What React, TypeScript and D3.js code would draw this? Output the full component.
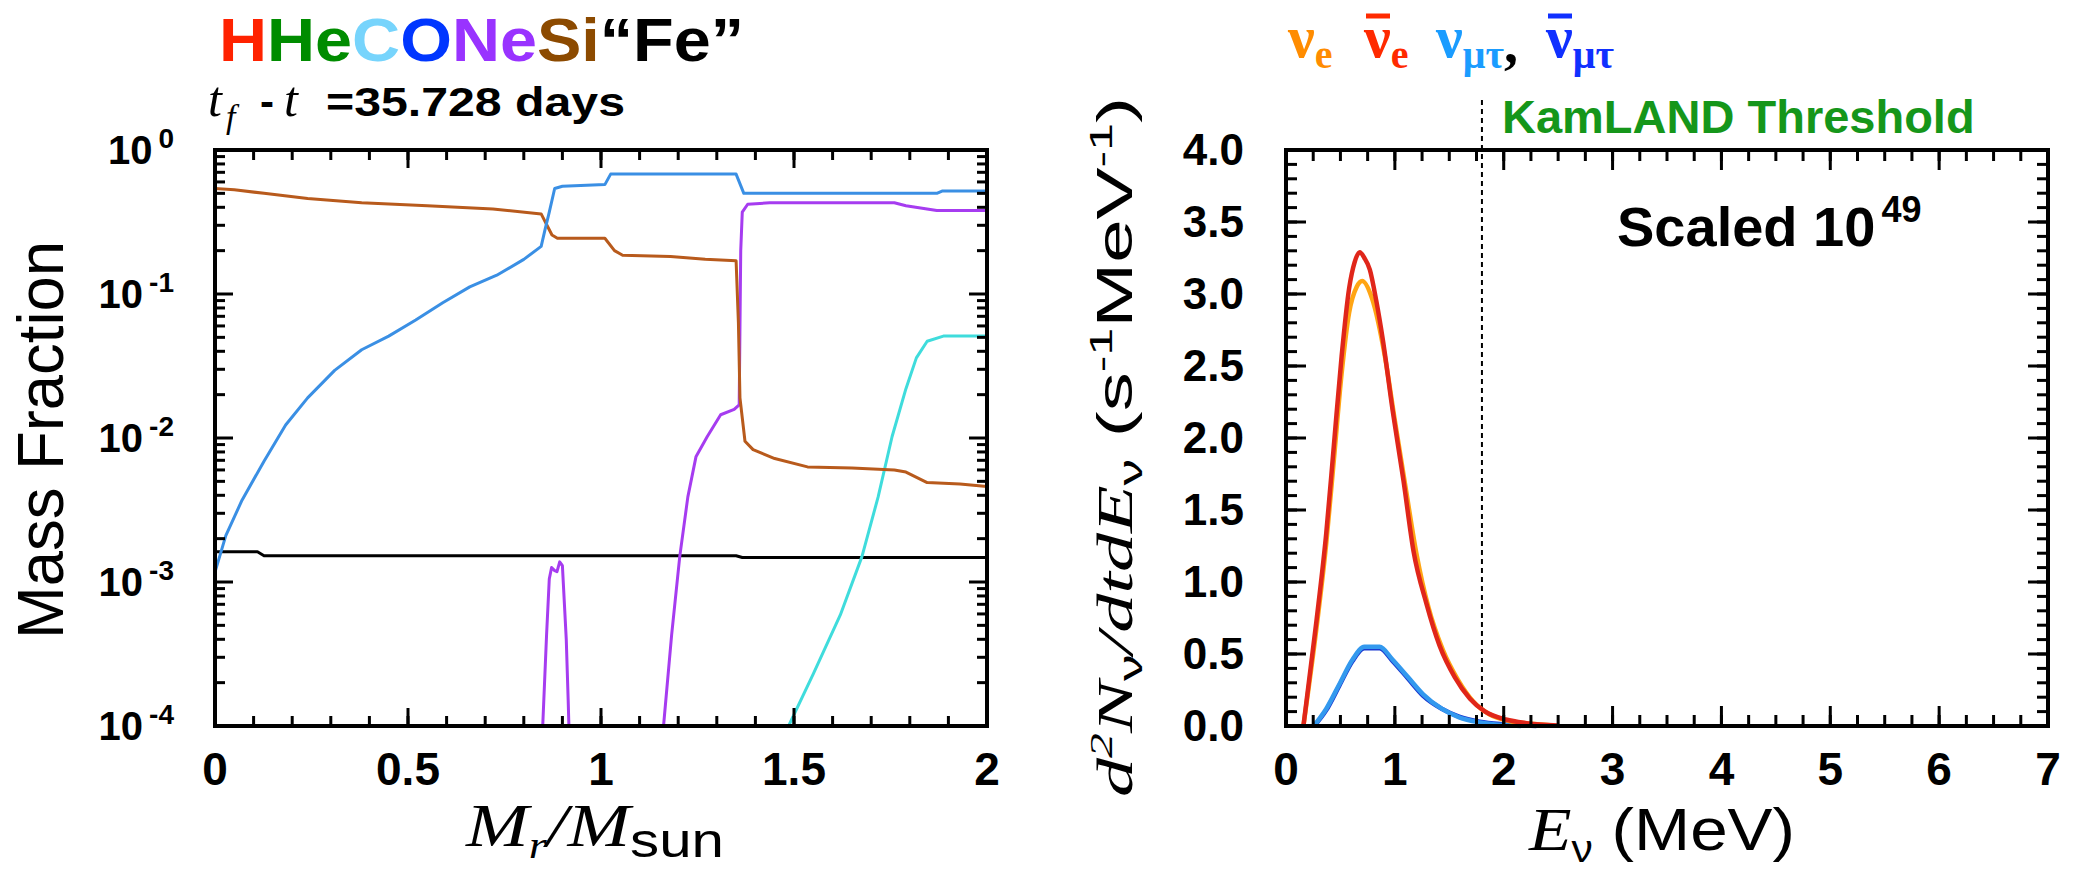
import React, { useEffect, useRef } from "react";
import * as d3 from "d3";

// ---- left panel: mass fraction vs Mr/Msun ----
const oxygen = [
  [0, 1.17e-3], [0.028, 2.1e-3], [0.07, 3.7e-3], [0.127, 6.9e-3], [0.183, 1.23e-2],
  [0.24, 1.9e-2], [0.31, 2.95e-2], [0.38, 4.1e-2], [0.45, 5.1e-2], [0.52, 6.6e-2],
  [0.59, 8.7e-2], [0.66, 0.112], [0.73, 0.135], [0.8, 0.174], [0.845, 0.214],
  [0.855, 0.28], [0.866, 0.37], [0.88, 0.54], [0.9, 0.56], [1.01, 0.575],
  [1.025, 0.68], [1.35, 0.68], [1.37, 0.5], [1.87, 0.5], [1.885, 0.52], [2.0, 0.52],
];
const silicon = [
  [0, 0.54], [0.05, 0.53], [0.127, 0.5], [0.24, 0.46], [0.38, 0.43], [0.55, 0.41],
  [0.72, 0.39], [0.845, 0.36], [0.86, 0.3], [0.873, 0.257], [0.887, 0.244], [1.01, 0.244],
  [1.035, 0.2], [1.056, 0.186], [1.18, 0.182], [1.27, 0.174], [1.35, 0.17], [1.356, 0.063],
  [1.36, 0.019], [1.373, 9.5e-3], [1.394, 8.3e-3], [1.45, 7.2e-3], [1.535, 6.3e-3],
  [1.65, 6.2e-3], [1.76, 6.0e-3], [1.79, 5.8e-3], [1.845, 4.9e-3], [1.93, 4.8e-3], [2.0, 4.6e-3],
];
const neonInner = [
  [0.845, 5e-5], [0.849, 1e-4], [0.859, 4.3e-4], [0.866, 1.05e-3], [0.872, 1.26e-3],
  [0.88, 1.2e-3], [0.886, 1.18e-3], [0.893, 1.38e-3], [0.9, 1.3e-3], [0.91, 4e-4],
  [0.915, 1.5e-4], [0.92, 5e-5],
];
const neonOuter = [
  [1.155, 5e-5], [1.162, 1e-4], [1.183, 4.3e-4], [1.204, 1.5e-3], [1.225, 3.9e-3],
  [1.246, 7.4e-3], [1.275, 1.02e-2], [1.31, 1.45e-2], [1.345, 1.58e-2], [1.358, 1.7e-2],
  [1.362, 0.2], [1.366, 0.37], [1.38, 0.42], [1.437, 0.43], [1.76, 0.43], [1.79, 0.41],
  [1.87, 0.38], [2.0, 0.38],
];
const carbon = [
  [1.475, 5e-5], [1.486, 1e-4], [1.55, 2.3e-4], [1.62, 5.9e-4], [1.676, 1.5e-3],
  [1.718, 3.9e-3], [1.754, 1.02e-2], [1.79, 2.2e-2], [1.817, 3.6e-2], [1.845, 4.7e-2],
  [1.887, 5.1e-2], [2.0, 5.1e-2],
];
const iron = [
  [0, 1.62e-3], [0.11, 1.62e-3], [0.127, 1.52e-3], [1.35, 1.52e-3], [1.366, 1.48e-3], [2.0, 1.48e-3],
];
const massTicks = [0, 0.5, 1, 1.5, 2];
const massTickLabels = ["0", "0.5", "1", "1.5", "2"];
const fractionDecades = [0, -1, -2, -3, -4];

// ---- right panel: neutrino spectra, scaled 1e49 ----
const nuE = [
  [0.16, 0], [0.28, 0.68], [0.37, 1.27], [0.44, 1.85], [0.51, 2.44], [0.58, 2.87],
  [0.65, 3.05], [0.7, 3.09], [0.79, 2.97], [0.91, 2.56], [1.0, 2.12], [1.1, 1.65],
  [1.2, 1.19], [1.31, 0.82], [1.44, 0.53], [1.58, 0.32], [1.72, 0.17], [1.86, 0.085],
  [2.05, 0.035], [2.31, 0.012], [2.45, 0.004],
];
const nuEBar = [
  [0.16, 0], [0.28, 0.73], [0.37, 1.34], [0.44, 1.95], [0.51, 2.56], [0.58, 3.04],
  [0.63, 3.22], [0.677, 3.29], [0.72, 3.25], [0.77, 3.17], [0.83, 2.95], [0.89, 2.68],
  [0.98, 2.19], [1.08, 1.7], [1.17, 1.22], [1.29, 0.85], [1.41, 0.56], [1.55, 0.34],
  [1.69, 0.19], [1.83, 0.1], [2.02, 0.045], [2.21, 0.02], [2.5, 0.004],
];
const nuMuTau = [
  [0.255, 0], [0.37, 0.12], [0.49, 0.29], [0.61, 0.46], [0.72, 0.55], [0.86, 0.55],
  [0.98, 0.46], [1.12, 0.34], [1.26, 0.22], [1.43, 0.12], [1.59, 0.06], [1.78, 0.025],
  [2.02, 0.005], [2.16, 0],
];
const nuMuTauBar = [
  [0.26, 0], [0.37, 0.11], [0.49, 0.28], [0.61, 0.45], [0.72, 0.54], [0.86, 0.54],
  [0.98, 0.45], [1.12, 0.33], [1.26, 0.21], [1.43, 0.12], [1.59, 0.065], [1.78, 0.03],
  [2.0, 0.012], [2.2, 0.003], [2.3, 0],
];
const energyTicks = [0, 1, 2, 3, 4, 5, 6, 7];
const rateTicks = [0, 0.5, 1, 1.5, 2, 2.5, 3, 3.5, 4];
const rateTickLabels = ["0.0", "0.5", "1.0", "1.5", "2.0", "2.5", "3.0", "3.5", "4.0"];
const kamlandThreshold = 1.8;

const titleParts = [
  ["H", "#ff2200"], ["He", "#008c00"], ["C", "#77d4fc"], ["O", "#0036ff"],
  ["Ne", "#9933ff"], ["Si", "#8c4a00"], ["\u201cFe\u201d", "#000000"],
];

const SANS = "'Liberation Sans', Arial, Helvetica, sans-serif";
const SERIF = "'Liberation Serif', 'Times New Roman', serif";

const W = 2085;
const H = 873;

const App = () => {
  const ref = useRef<HTMLDivElement>(null);

  useEffect(() => {
    document.body.style.margin = "0";
    const root = d3.select(ref.current);
    root.select("svg").remove();
    const svg = root.append("svg").attr("width", W).attr("height", H)
      .style("display", "block").style("background", "#fff");

    const top = 150, bottom = 726;

    // frame + inward ticks on all four sides
    const drawTicks = (g, x, y, xMajor, xMinor, yMajor, yMinor, majLen, minLen) => {
      const [x0, x1] = x.range();
      const [yb, yt] = y.range();
      const tick = (a, b, c, d) => g.append("line").attr("x1", a).attr("y1", b).attr("x2", c).attr("y2", d)
        .attr("stroke", "#000").attr("stroke-width", 3);
      xMinor.concat(xMajor).forEach((v, i) => {
        const len = i < xMinor.length ? minLen : majLen;
        const px = x(v);
        tick(px, yb, px, yb - len);
        tick(px, yt, px, yt + len);
      });
      yMinor.concat(yMajor).forEach((v, i) => {
        const len = i < yMinor.length ? minLen : majLen;
        const py = y(v);
        tick(x0, py, x0 + len, py);
        tick(x1, py, x1 - len, py);
      });
      g.append("rect").attr("x", x0).attr("y", yt).attr("width", x1 - x0).attr("height", yb - yt)
        .attr("fill", "none").attr("stroke", "#000").attr("stroke-width", 4);
    };

    // ===== left panel =====
    const xL = d3.scaleLinear().domain([0, 2]).range([215, 987]);
    const yL = d3.scaleLog().domain([1e-4, 1]).range([bottom, top]);

    svg.append("clipPath").attr("id", "clipL").append("rect")
      .attr("x", 215).attr("y", top).attr("width", 772).attr("height", bottom - top);

    const lineL = d3.line().x(d => xL(d[0])).y(d => yL(Math.max(d[1], 1e-5)));
    const gl = svg.append("g").attr("clip-path", "url(#clipL)").attr("fill", "none")
      .attr("stroke-width", 3).attr("stroke-linejoin", "round");
    [
      [iron, "#000000"], [carbon, "#3fdcdc"], [neonInner, "#a63cf0"], [neonOuter, "#a63cf0"],
      [silicon, "#b85a1c"], [oxygen, "#3a8fe4"],
    ].forEach(([data, color]) => gl.append("path").attr("d", lineL(data)).attr("stroke", color));

    const minorL = d3.range(0, 2.0001, 0.1);
    const minorLogs = [];
    fractionDecades.slice(1).forEach(d => d3.range(2, 10).forEach(m => minorLogs.push(m * Math.pow(10, d))));
    drawTicks(svg.append("g"), xL, yL, massTicks, minorL,
      fractionDecades.map(d => Math.pow(10, d)), minorLogs, 18, 10);

    massTicks.forEach((v, i) => {
      svg.append("text").attr("x", xL(v)).attr("y", 785).attr("text-anchor", "middle")
        .attr("font-family", SANS).attr("font-weight", "bold").attr("font-size", 46)
        .text(massTickLabels[i]);
    });
    fractionDecades.forEach(d => {
      const t = svg.append("text").attr("x", 174).attr("y", yL(Math.pow(10, d)) + 14)
        .attr("text-anchor", "end").attr("font-family", SANS).attr("font-weight", "bold");
      t.append("tspan").attr("font-size", 40).text("10");
      t.append("tspan").attr("font-size", 28).attr("dx", 6).attr("dy", -16).text(d === 0 ? "0" : `${d}`);
    });

    svg.append("text").attr("transform", `translate(63,440) rotate(-90)`)
      .attr("text-anchor", "middle").attr("font-family", SANS).attr("font-size", 64)
      .attr("textLength", 398).attr("lengthAdjust", "spacingAndGlyphs").text("Mass Fraction");

    const mx = svg.append("text").attr("x", 466).attr("y", 846)
      .attr("textLength", 258).attr("lengthAdjust", "spacingAndGlyphs");
    mx.append("tspan").attr("font-family", SERIF).attr("font-style", "italic").attr("font-size", 62).text("M");
    mx.append("tspan").attr("font-family", SERIF).attr("font-style", "italic").attr("font-size", 38).attr("dy", 12).text("r");
    mx.append("tspan").attr("font-family", SERIF).attr("font-style", "italic").attr("font-size", 62).attr("dy", -12).text("/M");
    mx.append("tspan").attr("font-family", SANS).attr("font-size", 48).attr("dy", 11).text("sun");

    const title = svg.append("text").attr("x", 219).attr("y", 61)
      .attr("font-family", SANS).attr("font-weight", "bold").attr("font-size", 62)
      .attr("textLength", 525).attr("lengthAdjust", "spacingAndGlyphs");
    titleParts.forEach(([t, c]) => title.append("tspan").attr("fill", c).text(t));

    const tl = svg.append("text").attr("y", 116);
    tl.append("tspan").attr("x", 208).attr("font-family", SERIF).attr("font-style", "italic").attr("font-size", 50).text("t");
    tl.append("tspan").attr("x", 226).attr("dy", 12).attr("font-family", SERIF).attr("font-style", "italic").attr("font-size", 34).text("f");
    tl.append("tspan").attr("x", 260).attr("dy", -12).attr("font-family", SANS).attr("font-weight", "bold").attr("font-size", 42).text("-");
    tl.append("tspan").attr("x", 284).attr("font-family", SERIF).attr("font-style", "italic").attr("font-size", 50).text("t");
    svg.append("text").attr("x", 326).attr("y", 116).attr("font-family", SANS).attr("font-weight", "bold")
      .attr("font-size", 40).attr("textLength", 299).attr("lengthAdjust", "spacingAndGlyphs").text("=35.728 days");

    // ===== right panel =====
    const xR = d3.scaleLinear().domain([0, 7]).range([1286, 2048]);
    const yR = d3.scaleLinear().domain([0, 4]).range([bottom, top]);

    svg.append("line").attr("x1", xR(kamlandThreshold)).attr("x2", xR(kamlandThreshold))
      .attr("y1", 100).attr("y2", bottom).attr("stroke", "#000").attr("stroke-width", 2)
      .attr("stroke-dasharray", "5,4");

    const lineR = d3.line().x(d => xR(d[0])).y(d => yR(d[1])).curve(d3.curveMonotoneX);
    const gr = svg.append("g").attr("fill", "none").attr("stroke-width", 4.5).attr("stroke-linejoin", "round");
    [
      [nuMuTauBar, "#1a3ad0"], [nuMuTau, "#3399ee"], [nuE, "#ffa514"], [nuEBar, "#e0261a"],
    ].forEach(([data, color]) => gr.append("path").attr("d", lineR(data)).attr("stroke", color));

    drawTicks(svg.append("g"), xR, yR, energyTicks, d3.range(0, 7.001, 0.25),
      rateTicks, d3.range(0, 4.001, 0.1), 20, 11);

    energyTicks.forEach(v => {
      svg.append("text").attr("x", xR(v)).attr("y", 785).attr("text-anchor", "middle")
        .attr("font-family", SANS).attr("font-weight", "bold").attr("font-size", 46).text(v);
    });
    rateTicks.forEach((v, i) => {
      svg.append("text").attr("x", 1244).attr("y", yR(v) + 15).attr("text-anchor", "end")
        .attr("font-family", SANS).attr("font-weight", "bold").attr("font-size", 44).text(rateTickLabels[i]);
    });

    const ex = svg.append("text").attr("x", 1529).attr("y", 850)
      .attr("textLength", 266).attr("lengthAdjust", "spacingAndGlyphs");
    ex.append("tspan").attr("font-family", SERIF).attr("font-style", "italic").attr("font-size", 62).text("E");
    ex.append("tspan").attr("font-family", SANS).attr("font-size", 38).attr("dy", 12).text("\u03bd");
    ex.append("tspan").attr("font-family", SANS).attr("font-size", 60).attr("dy", -12).text(" (MeV)");

    const yl = svg.append("text").attr("transform", "translate(1132,447) rotate(-90)")
      .attr("text-anchor", "middle").attr("textLength", 700).attr("lengthAdjust", "spacingAndGlyphs");
    const part = (txt, font, size, dy, italic) => {
      const s = yl.append("tspan").attr("font-family", font).attr("font-size", size).attr("dy", dy).text(txt);
      if (italic) s.attr("font-style", "italic");
    };
    part("d", SERIF, 50, 0, true);
    part("2", SERIF, 32, -20, true);
    part("N", SERIF, 50, 20, true);
    part("\u03bd", SANS, 34, 10, false);
    part("/dtdE", SERIF, 50, -10, true);
    part("\u03bd", SANS, 34, 10, false);
    part(" (s", SANS, 50, -10, false);
    part("-1", SANS, 32, -20, false);
    part("MeV", SANS, 50, 20, false);
    part("-1", SANS, 32, -20, false);
    part(")", SANS, 50, 20, false);

    svg.append("text").attr("x", 1502).attr("y", 133).attr("font-family", SANS).attr("font-weight", "bold")
      .attr("font-size", 47).attr("fill", "#15961a").text("KamLAND Threshold");

    const sc = svg.append("text").attr("x", 1617).attr("y", 246).attr("font-family", SANS).attr("font-weight", "bold");
    sc.append("tspan").attr("font-size", 56).text("Scaled 10");
    sc.append("tspan").attr("font-size", 36).attr("dx", 6).attr("dy", -24).text("49");

    // legend: nu_e, anti-nu_e, nu_mutau, anti-nu_mutau
    const legend = [
      { x: 1288, sub: "e", color: "#ff8c00", bar: false, comma: false },
      { x: 1364, sub: "e", color: "#ff2a00", bar: true, comma: false },
      { x: 1436, sub: "\u03bc\u03c4", color: "#1a9cff", bar: false, comma: true },
      { x: 1546, sub: "\u03bc\u03c4", color: "#1030ff", bar: true, comma: false },
    ];
    legend.forEach(l => {
      const t = svg.append("text").attr("x", l.x).attr("y", 57).attr("font-family", SERIF)
        .attr("font-weight", "bold").attr("fill", l.color);
      t.append("tspan").attr("font-size", 60).text("\u03bd");
      t.append("tspan").attr("font-size", 40).attr("dy", 11).text(l.sub);
      if (l.comma) t.append("tspan").attr("font-size", 56).attr("dy", -6).attr("fill", "#000").text(",");
      if (l.bar) {
        svg.append("line").attr("x1", l.x + 2).attr("x2", l.x + 26).attr("y1", 16).attr("y2", 16)
          .attr("stroke", l.color).attr("stroke-width", 5);
      }
    });
  }, []);

  return <div ref={ref}></div>;
};

export default App;
